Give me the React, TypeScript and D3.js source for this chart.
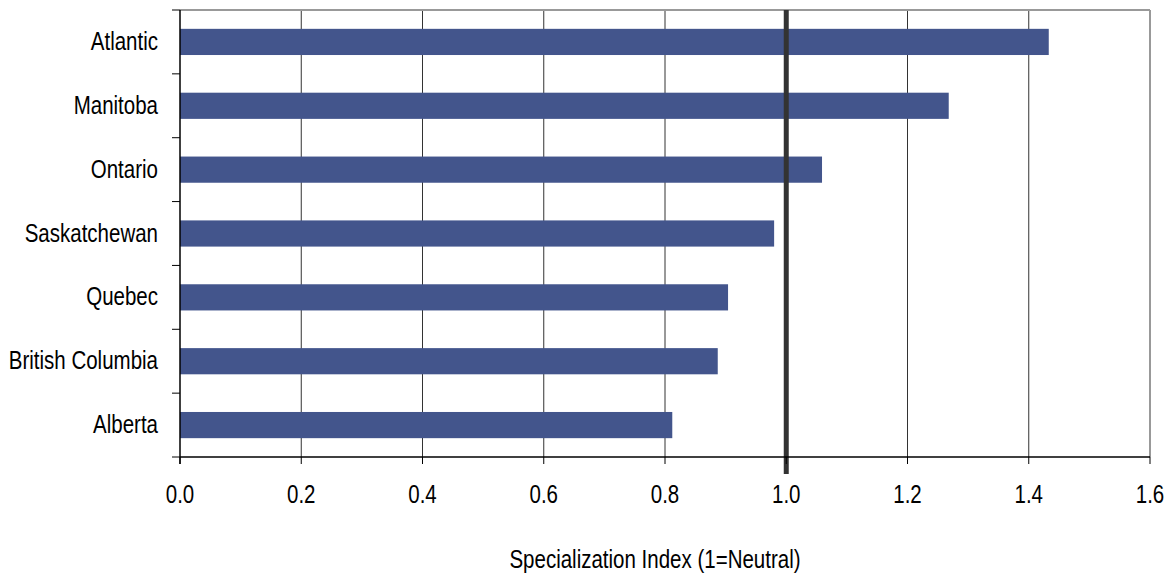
import React from "react";
import * as d3 from "d3";

const categories = ["Atlantic", "Manitoba", "Ontario", "Saskatchewan", "Quebec", "British Columbia", "Alberta"];
const values = [1.433, 1.268, 1.059, 0.98, 0.904, 0.887, 0.812];
const xTicks = [0, 0.2, 0.4, 0.6, 0.8, 1.0, 1.2, 1.4, 1.6];
const xTitle = "Specialization Index (1=Neutral)";
const neutral = 1.0;

export default function App() {
  const W = 1173, H = 575;
  const left = 180, right = 1150, top = 10, bottom = 457;
  const x = d3.scaleLinear().domain([0, 1.6]).range([left, right]);
  const y = d3.scaleBand().domain(categories).range([top, bottom]).paddingInner(0.59).paddingOuter(0.295);
  const band = (bottom - top) / categories.length;
  const font = "'Liberation Sans', Arial, sans-serif";
  const fs = 25;
  const sx = 0.82;
  const T = (key: string, tx: number, ty: number, anchor: string, s: string) => (
    <text key={key} transform={`translate(${tx},${ty}) scale(${sx},1)`} textAnchor={anchor} fontFamily={font} fontSize={fs} fill="#000">
      {s}
    </text>
  );
  return (
    <svg width={W} height={H} style={{ position: "absolute", left: 0, top: 0, background: "#fff" }}>
      {/* gridlines */}
      {xTicks.slice(1, -1).map((t) => (
        <line key={"g" + t} x1={x(t)} x2={x(t)} y1={top} y2={bottom} stroke="#333" strokeWidth={1} />
      ))}
      {/* frame top & right */}
      <line x1={left} x2={right} y1={top} y2={top} stroke="#999" strokeWidth={2} />
      <line x1={right} x2={right} y1={top} y2={bottom} stroke="#999" strokeWidth={2} />
      {/* bars */}
      {categories.map((c, i) => (
        <rect key={c} x={x(0)} y={y(c)} width={x(values[i]) - x(0)} height={y.bandwidth()} fill="#43558C" />
      ))}
      {/* neutral line */}
      <line x1={x(neutral)} x2={x(neutral)} y1={top} y2={474} stroke="#333" strokeWidth={5} />
      {/* axes */}
      <line x1={left} x2={left} y1={top} y2={bottom + 7} stroke="#000" strokeWidth={1.5} />
      <line x1={left} x2={right} y1={bottom} y2={bottom} stroke="#000" strokeWidth={1.5} />
      {d3.range(categories.length + 1).map((i) => (
        <line key={"yt" + i} x1={left - 8} x2={left} y1={top + i * band} y2={top + i * band} stroke="#000" strokeWidth={1} />
      ))}
      {xTicks.map((t) => (
        <line key={"xt" + t} x1={x(t)} x2={x(t)} y1={bottom} y2={bottom + 7} stroke="#000" strokeWidth={1} />
      ))}
      {/* labels */}
      {categories.map((c) => T("l" + c, 158, (y(c) as number) + y.bandwidth() / 2 + 8, "end", c))}
      {xTicks.map((t) => T("tl" + t, x(t), 503, "middle", t.toFixed(1)))}
      {T("title", 655, 568, "middle", xTitle)}
    </svg>
  );
}
